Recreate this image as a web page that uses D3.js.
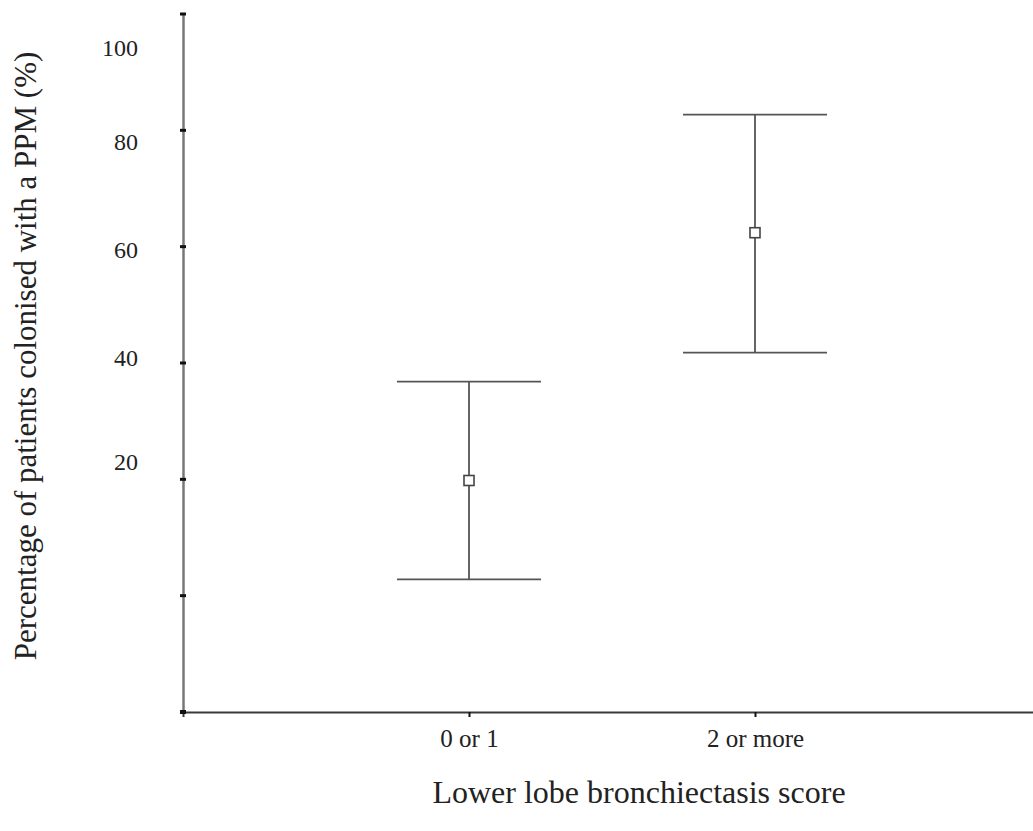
<!DOCTYPE html>
<html>
<head>
<meta charset="utf-8">
<script src="https://cdn.jsdelivr.net/npm/d3@7"></script>
<style>
  body { margin: 0; background: #fff; }
  text { font-family: "Liberation Serif", "Times New Roman", serif; fill: #222; }
</style>
</head>
<body>
<div id="chart"></div>
<script>
// data
const categories = ["0 or 1", "2 or more"];
const meanValues = [19.8, 62.4];
const lowerValues = [2.8, 41.8];
const upperValues = [36.8, 82.7];

// y tick marks and where the printed labels sit
const yTickValues = [-20, 0, 20, 40, 60, 80, 100];
const yLabelText = ["20", "40", "60", "80", "100"];
const yLabelAt = [23, 41, 59.5, 78, 94.2];

const width = 1033;
const height = 831;
const margin = { top: 14, bottom: 119, left: 183, right: -8 };

const svg = d3
    .select("div#chart")
    .append("svg")
    .attr("width", width)
    .attr("height", height);

const x = d3
    .scalePoint()
    .domain(categories)
    .range([margin.left, width - margin.right])
    .padding(1);

const y = d3
    .scaleLinear()
    .domain([-20, 100])
    .range([height - margin.bottom, margin.top]);

const axisColor = "#3a3a3a";

// y axis
const yAxisGroup = svg
    .append("g")
    .attr("class", "yAxisGroup")
    .attr("transform", `translate(${margin.left},0)`)
    .call(d3.axisLeft(y).tickValues(yTickValues).tickSize(0).tickFormat(""));

yAxisGroup.select(".domain").attr("stroke", "#777").attr("stroke-width", 2.5);

// little tick blobs across the axis
yAxisGroup
    .selectAll("rect.tk")
    .data(yTickValues)
    .join("rect")
    .attr("class", "tk")
    .attr("x", -3)
    .attr("y", (d) => y(d) - 1.5)
    .attr("width", 6)
    .attr("height", 3)
    .attr("fill", "#111");

svg.append("g")
    .attr("class", "yLabels")
    .selectAll("text")
    .data(yLabelText)
    .join("text")
    .attr("x", margin.left - 45)
    .attr("y", (d, i) => y(yLabelAt[i]))
    .attr("dy", "0.35em")
    .attr("text-anchor", "end")
    .attr("font-size", 24)
    .text((d) => d);

// x axis
const xAxisGroup = svg
    .append("g")
    .attr("class", "xAxisGroup")
    .attr("transform", `translate(0,${height - margin.bottom})`)
    .call(d3.axisBottom(x).tickSize(5).tickPadding(12));

xAxisGroup.attr("font-family", null);
xAxisGroup.select(".domain").attr("stroke", axisColor).attr("stroke-width", 2);
xAxisGroup.selectAll(".tick line").attr("stroke", "#111").attr("stroke-width", 2);
xAxisGroup
    .selectAll(".tick text")
    .attr("font-size", 25)
    .attr("fill", "#222");

xAxisGroup
    .append("rect")
    .attr("x", margin.left - 3)
    .attr("y", -2)
    .attr("width", 6)
    .attr("height", 4)
    .attr("fill", "#111");

// titles
svg.append("text")
    .attr("class", "title-x")
    .attr("x", (x(categories[0]) + x(categories[1])) / 2 + 27)
    .attr("y", 803)
    .attr("text-anchor", "middle")
    .attr("font-size", 32)
    .text("Lower lobe bronchiectasis score");

svg.append("text")
    .attr("class", "title-y")
    .attr("transform", `translate(36,356) rotate(-90)`)
    .attr("text-anchor", "middle")
    .attr("font-size", 31)
    .text("Percentage of patients colonised with a PPM (%)");

// error bars
const capHalf = 72;
const barColor = "#555";
const bars = svg
    .append("g")
    .attr("class", "elementGroup")
    .selectAll("g")
    .data(categories)
    .join("g");

bars.append("line")
    .attr("x1", (d) => x(d))
    .attr("x2", (d) => x(d))
    .attr("y1", (d, i) => y(upperValues[i]))
    .attr("y2", (d, i) => y(lowerValues[i]))
    .attr("stroke", barColor)
    .attr("stroke-width", 1.8);

bars.append("line")
    .attr("x1", (d) => x(d) - capHalf)
    .attr("x2", (d) => x(d) + capHalf)
    .attr("y1", (d, i) => y(upperValues[i]))
    .attr("y2", (d, i) => y(upperValues[i]))
    .attr("stroke", barColor)
    .attr("stroke-width", 1.8);

bars.append("line")
    .attr("x1", (d) => x(d) - capHalf)
    .attr("x2", (d) => x(d) + capHalf)
    .attr("y1", (d, i) => y(lowerValues[i]))
    .attr("y2", (d, i) => y(lowerValues[i]))
    .attr("stroke", barColor)
    .attr("stroke-width", 1.8);

bars.append("rect")
    .attr("x", (d) => x(d) - 5)
    .attr("y", (d, i) => y(meanValues[i]) - 5)
    .attr("width", 10)
    .attr("height", 10)
    .attr("fill", "#fff")
    .attr("stroke", "#444")
    .attr("stroke-width", 1.6);
</script>
</body>
</html>
